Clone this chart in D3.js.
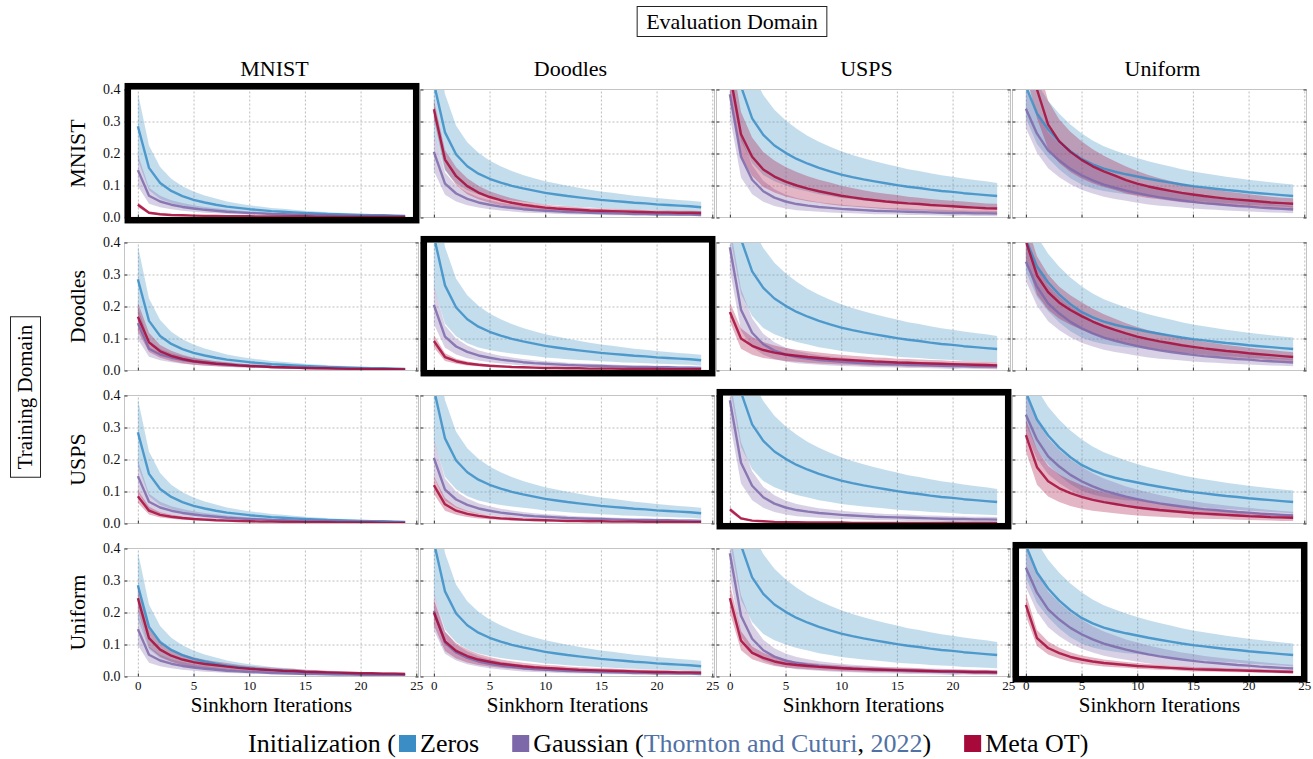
<!DOCTYPE html>
<html>
<head>
<meta charset="utf-8">
<script src="https://cdn.jsdelivr.net/npm/d3@7"></script>
<style>
body { margin: 0; background: #fff; }
svg text { font-family: "Liberation Serif", "Times New Roman", serif; }
</style>
</head>
<body>
<div id="graphContainer"></div>
<script>
var domains = ["MNIST", "Doodles", "USPS", "Uniform"];
var iterations = [0, 1, 2, 3, 4, 5, 6, 7, 8, 9, 10, 11, 12, 13, 14, 15, 16, 17, 18, 19, 20, 21, 22, 23, 24];
var xTicks = [0, 5, 10, 15, 20, 25];
var yTicks = [0, 0.1, 0.2, 0.3, 0.4];
var seriesNames = ["Zeros", "Gaussian", "Meta OT"];
var seriesColors = ["#3a8dc5", "#7d68aa", "#a6093a"];

/* Zeros init: one curve per evaluation domain */
var zerosMean = [
	[0.285,0.155,0.108,0.083,0.067,0.055,0.047,0.040,0.034,0.030,0.026,0.023,0.020,0.018,0.016,0.014,0.013,0.011,0.010,0.009,0.008,0.007,0.007,0.006,0.005],
	[0.420,0.266,0.197,0.160,0.137,0.121,0.109,0.099,0.091,0.084,0.077,0.072,0.067,0.063,0.059,0.055,0.052,0.049,0.046,0.044,0.041,0.039,0.037,0.035,0.032],
	[0.620,0.410,0.310,0.258,0.225,0.202,0.183,0.168,0.155,0.144,0.134,0.126,0.119,0.113,0.107,0.101,0.096,0.092,0.087,0.083,0.080,0.076,0.073,0.070,0.067],
	[0.410,0.325,0.275,0.237,0.207,0.183,0.166,0.153,0.143,0.135,0.128,0.121,0.115,0.109,0.103,0.098,0.094,0.090,0.086,0.083,0.079,0.076,0.073,0.070,0.067]
];
var zerosStd = [
	[0.105,0.070,0.050,0.038,0.031,0.026,0.022,0.019,0.016,0.014,0.012,0.011,0.010,0.009,0.008,0.007,0.006,0.006,0.005,0.005,0.004,0.004,0.004,0.003,0.003],
	[0.160,0.120,0.090,0.075,0.065,0.057,0.051,0.046,0.042,0.039,0.036,0.034,0.032,0.030,0.028,0.026,0.025,0.024,0.022,0.021,0.020,0.019,0.018,0.017,0.017],
	[0.200,0.170,0.140,0.125,0.112,0.102,0.094,0.087,0.082,0.077,0.073,0.069,0.066,0.063,0.060,0.058,0.055,0.053,0.051,0.049,0.047,0.046,0.044,0.043,0.041],
	[0.100,0.095,0.090,0.087,0.084,0.080,0.075,0.070,0.066,0.062,0.058,0.055,0.052,0.050,0.048,0.046,0.044,0.043,0.041,0.040,0.039,0.038,0.037,0.036,0.036]
];

/* Gaussian init: one curve per evaluation domain */
var gaussMean = [
	[0.148,0.068,0.050,0.040,0.033,0.028,0.024,0.021,0.018,0.016,0.014,0.013,0.011,0.010,0.009,0.008,0.008,0.007,0.006,0.006,0.005,0.005,0.005,0.004,0.004],
	[0.205,0.106,0.075,0.058,0.047,0.040,0.034,0.030,0.026,0.023,0.021,0.019,0.017,0.016,0.015,0.014,0.013,0.012,0.011,0.011,0.010,0.010,0.009,0.009,0.008],
	[0.385,0.190,0.118,0.082,0.062,0.050,0.042,0.037,0.033,0.030,0.027,0.025,0.023,0.021,0.020,0.019,0.018,0.017,0.016,0.015,0.014,0.014,0.013,0.013,0.012],
	[0.340,0.262,0.210,0.178,0.152,0.132,0.116,0.103,0.093,0.084,0.076,0.069,0.063,0.058,0.053,0.049,0.045,0.042,0.039,0.036,0.034,0.031,0.029,0.027,0.025]
];
var gaussStd = [
	[0.050,0.025,0.018,0.014,0.012,0.010,0.009,0.008,0.007,0.006,0.005,0.005,0.004,0.004,0.004,0.003,0.003,0.003,0.003,0.002,0.002,0.002,0.002,0.002,0.002],
	[0.060,0.035,0.025,0.020,0.016,0.014,0.012,0.011,0.010,0.009,0.008,0.008,0.007,0.007,0.006,0.006,0.006,0.005,0.005,0.005,0.005,0.005,0.004,0.004,0.004],
	[0.070,0.065,0.045,0.033,0.026,0.022,0.019,0.017,0.015,0.014,0.013,0.012,0.011,0.011,0.010,0.010,0.010,0.009,0.009,0.009,0.009,0.008,0.008,0.008,0.008],
	[0.060,0.060,0.056,0.052,0.048,0.045,0.041,0.038,0.035,0.032,0.030,0.028,0.026,0.024,0.022,0.021,0.019,0.018,0.017,0.016,0.015,0.014,0.013,0.012,0.012]
];

/* Meta OT: metaMean[training][evaluation] */
var metaMean = [
	[
		[0.040,0.015,0.010,0.008,0.007,0.006,0.005,0.005,0.004,0.004,0.004,0.003,0.003,0.003,0.003,0.003,0.002,0.002,0.002,0.002,0.002,0.002,0.002,0.002,0.002],
		[0.338,0.181,0.129,0.098,0.078,0.064,0.054,0.046,0.040,0.035,0.031,0.028,0.026,0.024,0.022,0.021,0.020,0.019,0.018,0.017,0.016,0.016,0.015,0.015,0.014],
		[0.450,0.260,0.190,0.150,0.128,0.112,0.100,0.090,0.082,0.075,0.068,0.063,0.058,0.054,0.050,0.047,0.044,0.042,0.039,0.037,0.035,0.033,0.031,0.029,0.028],
		[0.550,0.400,0.290,0.238,0.205,0.180,0.160,0.144,0.131,0.117,0.106,0.097,0.090,0.083,0.077,0.072,0.067,0.063,0.059,0.056,0.053,0.050,0.047,0.045,0.043]
	],
	[
		[0.168,0.088,0.060,0.046,0.036,0.029,0.025,0.021,0.019,0.016,0.014,0.013,0.011,0.010,0.009,0.008,0.007,0.007,0.006,0.005,0.005,0.004,0.004,0.004,0.003],
		[0.092,0.042,0.029,0.022,0.018,0.015,0.013,0.011,0.010,0.009,0.008,0.008,0.007,0.007,0.006,0.006,0.006,0.005,0.005,0.005,0.005,0.004,0.004,0.004,0.004],
		[0.183,0.100,0.077,0.064,0.056,0.050,0.046,0.042,0.039,0.036,0.034,0.032,0.030,0.028,0.027,0.025,0.024,0.023,0.022,0.021,0.020,0.019,0.018,0.017,0.016],
		[0.405,0.297,0.245,0.212,0.189,0.170,0.153,0.139,0.127,0.116,0.106,0.098,0.091,0.085,0.079,0.074,0.069,0.065,0.061,0.058,0.054,0.051,0.048,0.045,0.042]
	],
	[
		[0.085,0.040,0.027,0.021,0.017,0.014,0.012,0.010,0.009,0.008,0.007,0.006,0.006,0.005,0.005,0.004,0.004,0.004,0.003,0.003,0.003,0.003,0.002,0.002,0.002],
		[0.120,0.060,0.040,0.030,0.024,0.019,0.016,0.014,0.012,0.011,0.010,0.009,0.008,0.008,0.007,0.007,0.006,0.006,0.006,0.005,0.005,0.005,0.005,0.004,0.004],
		[0.044,0.016,0.009,0.007,0.005,0.004,0.004,0.003,0.003,0.003,0.003,0.002,0.002,0.002,0.002,0.002,0.002,0.002,0.002,0.002,0.002,0.002,0.002,0.002,0.002],
		[0.276,0.176,0.132,0.110,0.095,0.083,0.074,0.067,0.061,0.055,0.050,0.046,0.042,0.039,0.036,0.033,0.031,0.029,0.027,0.025,0.023,0.022,0.020,0.019,0.018]
	],
	[
		[0.245,0.120,0.084,0.065,0.053,0.045,0.039,0.035,0.031,0.027,0.024,0.022,0.020,0.018,0.017,0.015,0.014,0.013,0.012,0.011,0.010,0.010,0.009,0.009,0.008],
		[0.200,0.110,0.080,0.064,0.053,0.046,0.040,0.036,0.032,0.029,0.027,0.025,0.023,0.021,0.020,0.019,0.018,0.017,0.016,0.015,0.014,0.014,0.013,0.013,0.012],
		[0.245,0.112,0.074,0.058,0.047,0.040,0.036,0.033,0.030,0.028,0.026,0.024,0.023,0.022,0.021,0.020,0.019,0.018,0.017,0.016,0.016,0.015,0.014,0.014,0.013],
		[0.224,0.120,0.089,0.073,0.061,0.053,0.047,0.042,0.039,0.036,0.033,0.031,0.029,0.027,0.025,0.023,0.022,0.021,0.020,0.019,0.018,0.017,0.016,0.015,0.014]
	]
];
var metaStd = [
	[
		[0.008,0.004,0.003,0.002,0.002,0.002,0.002,0.001,0.001,0.001,0.001,0.001,0.001,0.001,0.001,0.001,0.001,0.001,0.001,0.001,0.001,0.001,0.001,0.001,0.001],
		[0.030,0.030,0.028,0.025,0.021,0.018,0.016,0.014,0.012,0.011,0.010,0.009,0.009,0.008,0.008,0.007,0.007,0.007,0.007,0.006,0.006,0.006,0.006,0.006,0.006],
		[0.080,0.070,0.060,0.055,0.050,0.046,0.042,0.039,0.036,0.034,0.031,0.029,0.027,0.025,0.024,0.023,0.021,0.020,0.019,0.018,0.017,0.017,0.016,0.015,0.015],
		[0.100,0.090,0.075,0.068,0.063,0.058,0.053,0.049,0.045,0.042,0.039,0.036,0.033,0.031,0.029,0.027,0.025,0.024,0.022,0.021,0.020,0.019,0.018,0.017,0.017]
	],
	[
		[0.045,0.030,0.020,0.016,0.013,0.011,0.009,0.008,0.007,0.006,0.005,0.005,0.004,0.004,0.004,0.003,0.003,0.003,0.003,0.002,0.002,0.002,0.002,0.002,0.002],
		[0.020,0.012,0.008,0.006,0.005,0.004,0.004,0.003,0.003,0.003,0.003,0.002,0.002,0.002,0.002,0.002,0.002,0.002,0.002,0.002,0.002,0.002,0.002,0.002,0.002],
		[0.030,0.032,0.028,0.025,0.022,0.020,0.019,0.018,0.017,0.016,0.015,0.014,0.014,0.013,0.013,0.012,0.012,0.011,0.011,0.011,0.010,0.010,0.010,0.010,0.010],
		[0.060,0.060,0.055,0.050,0.046,0.043,0.040,0.037,0.035,0.032,0.030,0.028,0.027,0.025,0.024,0.022,0.021,0.020,0.019,0.018,0.017,0.016,0.016,0.015,0.015]
	],
	[
		[0.020,0.012,0.008,0.006,0.005,0.004,0.004,0.003,0.003,0.003,0.002,0.002,0.002,0.002,0.002,0.002,0.002,0.002,0.001,0.001,0.001,0.001,0.001,0.001,0.001],
		[0.028,0.020,0.013,0.010,0.008,0.006,0.005,0.005,0.004,0.004,0.003,0.003,0.003,0.003,0.003,0.002,0.002,0.002,0.002,0.002,0.002,0.002,0.002,0.002,0.002],
		[0.008,0.004,0.002,0.002,0.001,0.001,0.001,0.001,0.001,0.001,0.001,0.001,0.001,0.001,0.001,0.001,0.001,0.001,0.001,0.001,0.001,0.001,0.001,0.001,0.001],
		[0.050,0.055,0.048,0.043,0.040,0.037,0.034,0.031,0.029,0.027,0.025,0.023,0.021,0.020,0.018,0.017,0.016,0.015,0.014,0.013,0.012,0.012,0.011,0.011,0.010]
	],
	[
		[0.040,0.030,0.022,0.019,0.017,0.015,0.013,0.012,0.011,0.010,0.009,0.008,0.008,0.007,0.007,0.006,0.006,0.005,0.005,0.005,0.004,0.004,0.004,0.004,0.004],
		[0.040,0.030,0.024,0.020,0.017,0.015,0.013,0.012,0.011,0.010,0.009,0.009,0.008,0.008,0.007,0.007,0.007,0.006,0.006,0.006,0.006,0.005,0.005,0.005,0.005],
		[0.045,0.030,0.020,0.016,0.014,0.012,0.011,0.010,0.010,0.009,0.009,0.008,0.008,0.008,0.007,0.007,0.007,0.007,0.006,0.006,0.006,0.006,0.006,0.006,0.006],
		[0.035,0.025,0.020,0.017,0.015,0.013,0.012,0.011,0.010,0.009,0.009,0.008,0.008,0.007,0.007,0.007,0.006,0.006,0.006,0.006,0.005,0.005,0.005,0.005,0.005]
	]
];

window.onload = function()
{
	DrawFigure();
}

function DrawFigure()
{
	var width = 1313, height = 759;
	var panelW = 294, panelH = 128;
	var left0 = 124.5, top0 = 89.5, colStep = 296, rowStep = 153;

	var svg = d3.select("#graphContainer").append("svg")
		.attr("width", width)
		.attr("height", height);

	var x = d3.scaleLinear().domain([-1.2, 25.2]).range([0, panelW]);
	var y = d3.scaleLinear().domain([0, 0.4]).range([panelH, 0]);

	var band = d3.area()
		.x(function(d, i) { return x(iterations[i]); })
		.y0(function(d) { return y(d[0] - d[1]); })
		.y1(function(d) { return y(d[0] + d[1]); });
	var line = d3.line()
		.x(function(d, i) { return x(iterations[i]); })
		.y(function(d) { return y(d[0]); });

	for (var r = 0; r < 4; r++)
	{
		for (var c = 0; c < 4; c++)
		{
			var g = svg.append("g")
				.attr("transform", `translate(${left0 + c * colStep}, ${top0 + r * rowStep})`);

			var clipId = "clip-" + r + "-" + c;
			g.append("clipPath").attr("id", clipId)
				.append("rect").attr("width", panelW).attr("height", panelH);

			/* grid */
			var gx = g.append("g")
				.attr("transform", `translate(0, ${panelH})`)
				.call(d3.axisBottom(x).tickValues(xTicks).tickSize(-panelH).tickFormat(""));
			var gy = g.append("g")
				.call(d3.axisLeft(y).tickValues([0.1, 0.2, 0.3]).tickSize(-panelW).tickFormat(""));
			[gx, gy].forEach(function(a) {
				a.select(".domain").remove();
				a.selectAll("line")
					.attr("stroke", "#acacac")
					.attr("stroke-width", 0.8)
					.attr("stroke-dasharray", "2,2");
			});

			/* bands and lines */
			var plot = g.append("g").attr("clip-path", `url(#${clipId})`);
			var series = [
				d3.zip(zerosMean[c], zerosStd[c]),
				d3.zip(gaussMean[c], gaussStd[c]),
				d3.zip(metaMean[r][c], metaStd[r][c])
			];
			series.forEach(function(s, k) {
				plot.append("path")
					.attr("d", band(s))
					.attr("fill", seriesColors[k])
					.attr("fill-opacity", 0.3)
					.attr("stroke", "none");
			});
			series.forEach(function(s, k) {
				plot.append("path")
					.attr("d", line(s))
					.attr("fill", "none")
					.attr("stroke", seriesColors[k])
					.attr("stroke-opacity", 0.85)
					.attr("stroke-width", 2.4)
					.attr("stroke-linejoin", "round");
			});

			/* spines */
			g.append("rect")
				.attr("width", panelW).attr("height", panelH)
				.attr("fill", "none")
				.attr("stroke", "#c4c4c4")
				.attr("stroke-width", 1);

			/* inward ticks */
			var xAxis = g.append("g")
				.attr("transform", `translate(0, ${panelH})`)
				.call(d3.axisBottom(x).tickValues(xTicks).tickSize(-3).tickPadding(4)
					.tickFormat(r == 3 ? d3.format("d") : ""));
			var yAxis = g.append("g")
				.call(d3.axisLeft(y).tickValues(yTicks).tickSize(-3).tickPadding(4)
					.tickFormat(c == 0 ? d3.format(".1f") : ""));
			var yAxisR = g.append("g")
				.attr("transform", `translate(${panelW}, 0)`)
				.call(d3.axisRight(y).tickValues(yTicks).tickSize(-3).tickFormat(""));
			[xAxis, yAxis, yAxisR].forEach(function(a) {
				a.select(".domain").remove();
				a.selectAll("line").attr("stroke", "#333").attr("stroke-width", 1);
				a.selectAll("text")
					.attr("font-family", "'Liberation Serif', serif")
					.attr("fill", "#111");
			});
			xAxis.selectAll("text").attr("font-size", 13);
			yAxis.selectAll("text").attr("font-size", 14);

			/* highlight in-domain panels */
			if (r == c)
			{
				g.append("rect")
					.attr("x", 3.3).attr("y", -3.3)
					.attr("width", panelW - 5.6).attr("height", panelH + 6)
					.attr("fill", "none")
					.attr("stroke", "#000")
					.attr("stroke-width", 6.5);
			}

			if (r == 0)
			{
				svg.append("text")
					.attr("x", left0 + c * colStep + panelW / 2 + 3)
					.attr("y", 76)
					.attr("text-anchor", "middle")
					.attr("font-size", 22)
					.text(domains[c]);
			}
			if (r == 3)
			{
				svg.append("text")
					.attr("x", left0 + c * colStep + panelW / 2)
					.attr("y", 712)
					.attr("text-anchor", "middle")
					.attr("font-size", 21)
					.text("Sinkhorn Iterations");
			}
		}

		svg.append("text")
			.attr("transform", `translate(85, ${top0 + r * rowStep + panelH / 2}) rotate(-90)`)
			.attr("text-anchor", "middle")
			.attr("font-size", 22)
			.text(domains[r]);
	}

	/* boxed super labels */
	var evalText = svg.append("text")
		.attr("x", 732).attr("y", 29)
		.attr("text-anchor", "middle")
		.attr("font-size", 22)
		.text("Evaluation Domain");
	var ew = evalText.node().getComputedTextLength();
	svg.append("rect")
		.attr("x", 732 - ew / 2 - 9).attr("y", 6.5)
		.attr("width", ew + 18).attr("height", 30)
		.attr("fill", "none").attr("stroke", "#222").attr("stroke-width", 1);

	var trainText = svg.append("text")
		.attr("transform", "translate(32, 397) rotate(-90)")
		.attr("text-anchor", "middle")
		.attr("font-size", 21)
		.text("Training Domain");
	var tw = trainText.node().getComputedTextLength();
	svg.append("rect")
		.attr("x", 10.5).attr("y", 397 - tw / 2 - 8)
		.attr("width", 30).attr("height", tw + 16)
		.attr("fill", "none").attr("stroke", "#222").attr("stroke-width", 1);

	/* legend */
	var citeColor = "#5171a5";
	var pieces = [
		{ text: "Initialization (" },
		{ square: 0 }, { text: "Zeros" }, { gap: 30 },
		{ square: 1 }, { text: "Gaussian (" }, { text: "Thornton and Cuturi", color: citeColor },
		{ text: ", " }, { text: "2022", color: citeColor }, { text: ")" }, { gap: 30 },
		{ square: 2 }, { text: "Meta OT)" }
	];
	var lx = 248, ly = 752;
	pieces.forEach(function(p) {
		if (p.gap)
		{
			lx += p.gap;
		}
		else if (p.square !== undefined)
		{
			svg.append("rect")
				.attr("x", lx + 3).attr("y", ly - 17)
				.attr("width", 17).attr("height", 17)
				.attr("fill", seriesColors[p.square]);
			lx += 24;
		}
		else
		{
			var t = svg.append("text")
				.attr("x", lx).attr("y", ly)
				.attr("font-size", 26)
				.attr("fill", p.color || "#000")
				.style("white-space", "pre")
				.text(p.text);
			lx += t.node().getComputedTextLength();
		}
	});
}
</script>
</body>
</html>
